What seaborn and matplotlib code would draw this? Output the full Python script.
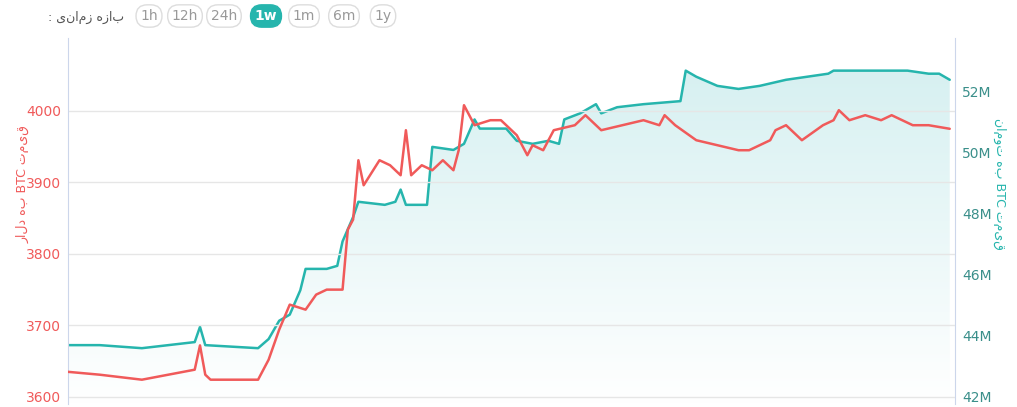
import numpy as np
import matplotlib
matplotlib.use('Agg')
import matplotlib.pyplot as plt
from matplotlib.patches import Polygon
from matplotlib.colors import LinearSegmentedColormap
import seaborn as sns

# hours across one week
hours_usd = [0, 6, 14, 24, 25, 26, 27, 36, 38, 40, 42, 45, 47, 49, 52, 53, 54, 55, 56, 59, 61, 63,
             64, 65, 67, 69, 71, 73, 74, 75, 77, 80, 82, 85, 87, 88, 90, 92, 96, 98, 101, 105, 109,
             112, 113, 115, 119, 123, 127, 129, 131, 133, 134, 136, 139, 143, 145, 146, 148,
             151, 154, 156, 160, 163, 167]
usd = [3635, 3631, 3624, 3638, 3672, 3631, 3624, 3624, 3652, 3694, 3729, 3722, 3743, 3750, 3750,
       3834, 3848, 3931, 3896, 3931, 3924, 3910, 3973, 3910, 3924, 3917, 3931, 3917, 3945, 4008,
       3980, 3987, 3987, 3966, 3938, 3952, 3945, 3973, 3980, 3994, 3973, 3980, 3987, 3980, 3994,
       3980, 3959, 3952, 3945, 3945, 3952, 3959, 3973, 3980, 3959, 3980, 3987, 4001, 3987,
       3994, 3987, 3994, 3980, 3980, 3975]

hours_irr = [0, 6, 14, 24, 25, 26, 36, 38, 40, 42, 44, 45, 49, 51, 52, 54, 55, 60, 62, 63, 64, 68,
             69, 73, 75, 77, 78, 83, 85, 88, 91, 93, 94, 97, 100, 101, 104, 109, 116, 117, 119, 123,
             127, 131, 136, 144, 145, 148, 153, 159, 163, 165, 167]
irr = [43.7, 43.7, 43.6, 43.8, 44.3, 43.7, 43.6, 43.9, 44.5, 44.7, 45.5, 46.2, 46.2, 46.3, 47.1,
       47.9, 48.4, 48.3, 48.4, 48.8, 48.3, 48.3, 50.2, 50.1, 50.3, 51.1, 50.8, 50.8, 50.4, 50.3,
       50.4, 50.3, 51.1, 51.3, 51.6, 51.3, 51.5, 51.6, 51.7, 52.7, 52.5, 52.2, 52.1, 52.2, 52.4,
       52.6, 52.7, 52.7, 52.7, 52.7, 52.6, 52.6, 52.4]

usd_ticks = [3600, 3700, 3800, 3900, 4000]
irr_ticks = [42, 44, 46, 48, 50, 52]
ranges = ['1h', '12h', '24h', '1w', '1m', '6m', '1y']

red = '#f05a5a'
teal = '#26b5ad'


def rtl(s):
    # matplotlib has no bidi: lay out words right-to-left by hand
    return ' '.join(w if w.isascii() else w[::-1] for w in reversed(s.split(' ')))


sns.set_style('white')
plt.rcParams['font.family'] = ['DejaVu Sans']

fig = plt.figure(figsize=(10.17, 4.07), dpi=100)
ax = fig.add_axes([68 / 1017, 3 / 407, 887 / 1017, 366 / 407])
ax2 = ax.twinx()

ax.set_xlim(0, 168)
ax.set_ylim(3590, 4102)
ax2.set_ylim(41.77, 53.77)

# gradient fill under the toman line
verts = list(zip(hours_irr, irr)) + [(hours_irr[-1], 41.77), (0, 41.77)]
poly = Polygon(verts, closed=True, facecolor='none', edgecolor='none')
ax2.add_patch(poly)
grad = np.linspace(1, 0, 256).reshape(-1, 1)
cmap = LinearSegmentedColormap.from_list('g', ['#ffffff', '#d3eff0'])
img = ax2.imshow(grad, aspect='auto', cmap=cmap, vmin=0, vmax=1,
                 extent=[0, 168, 41.77, 53.77], origin='upper', zorder=1)
img.set_clip_path(poly)

sns.lineplot(x=hours_irr, y=irr, ax=ax2, color=teal, linewidth=1.8, zorder=3)
sns.lineplot(x=hours_usd, y=usd, ax=ax, color=red, linewidth=1.8, zorder=3)
ax.set_zorder(ax2.get_zorder() + 1)
ax.patch.set_visible(False)

ax.set_yticks(usd_ticks)
ax.yaxis.grid(True, color='#e6e6e6', linewidth=1)
ax.set_xticks([])
ax2.set_yticks(irr_ticks)
ax2.set_yticklabels([f'{t}M' for t in irr_ticks])
ax.tick_params(axis='y', colors=red, labelsize=10, length=0, pad=5)
ax2.tick_params(axis='y', colors='#3a8f8a', labelsize=10, length=0, pad=5)
for a in (ax, ax2):
    for s in a.spines.values():
        s.set_visible(False)
ax.spines['left'].set_visible(True)
ax.spines['left'].set_color('#ccd6eb')
ax2.spines['right'].set_visible(True)
ax2.spines['right'].set_color('#ccd6eb')
ax.set_ylabel(rtl('قیمت BTC به دلار'), color=red, fontsize=9, va='center')
ax.yaxis.set_label_coords(-0.051, 0.6)
ax2.set_ylabel(rtl('قیمت BTC به تومان'), color=teal, fontsize=9, rotation=270, va='center')
ax2.yaxis.set_label_coords(1.05, 0.6)

# range selector
fig.text(124 / 1017, 1 - 17 / 407, ': ' + rtl('بازه زمانی'), ha='right', va='center',
         fontsize=9, color='#555555')
xs = [149, 185, 224, 266, 304, 344, 383]
for x, r in zip(xs, ranges):
    on = r == '1w'
    fig.text(x / 1017, 1 - 16 / 407, r, ha='center', va='center', fontsize=10,
             color='white' if on else '#999999', weight='bold' if on else 'normal',
             bbox=dict(boxstyle='round,pad=0.3,rounding_size=0.8',
                       fc=teal if on else 'white', ec=teal if on else '#dddddd'))

fig.savefig('out.png', dpi=100)
